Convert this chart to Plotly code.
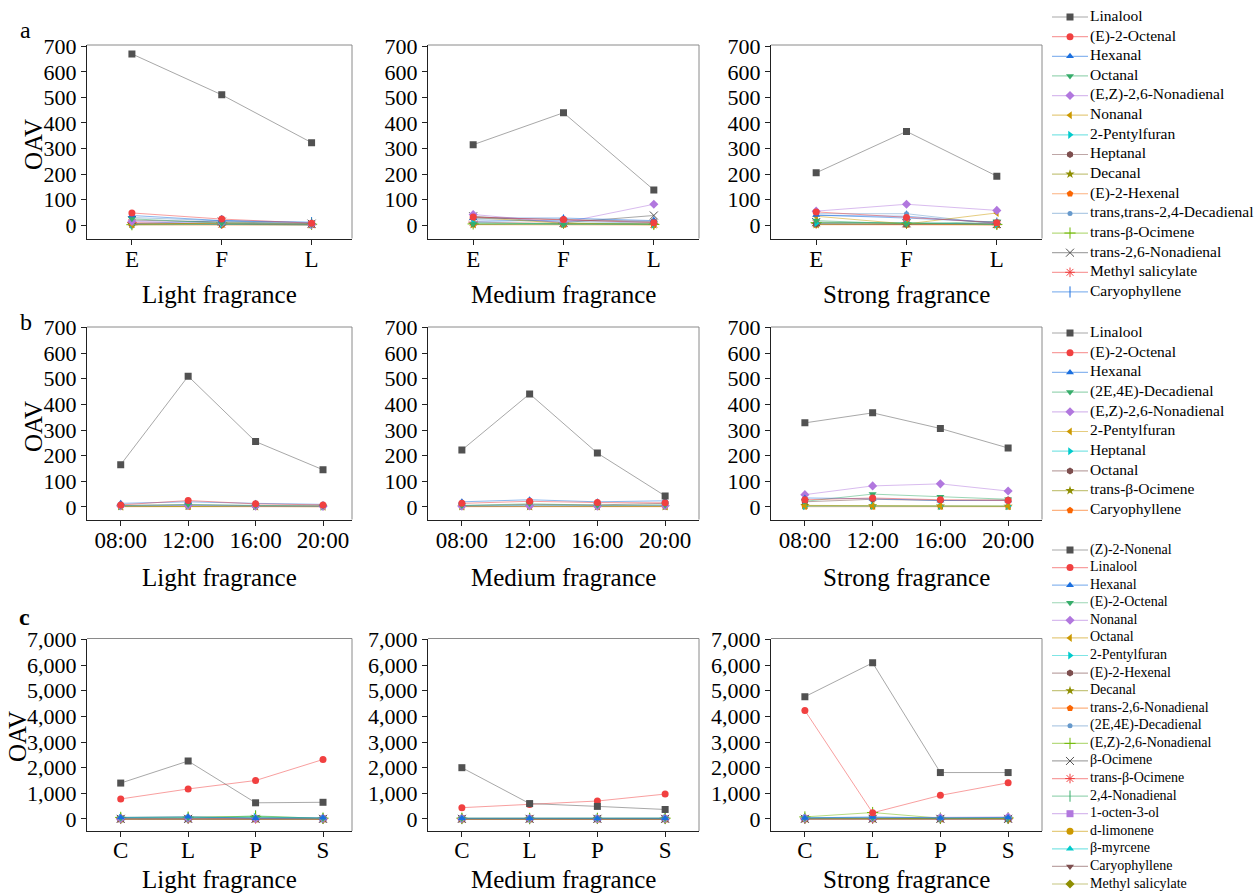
import plotly.graph_objects as go

W, H = 1257, 893
FONT = "Times New Roman, Liberation Serif, DejaVu Serif, serif"

# ---------------- data ----------------
STAGES = ["E", "F", "L"]
TIMES = ["08:00", "12:00", "16:00", "20:00"]
PARTS = ["C", "L", "P", "S"]
GROUPS = ["Light fragrance", "Medium fragrance", "Strong fragrance"]

NAMES_A = ["Linalool", "(E)-2-Octenal", "Hexanal", "Octanal", "(E,Z)-2,6-Nonadienal",
           "Nonanal", "2-Pentylfuran", "Heptanal", "Decanal", "(E)-2-Hexenal",
           "trans,trans-2,4-Decadienal", "trans-β-Ocimene", "trans-2,6-Nonadienal",
           "Methyl salicylate", "Caryophyllene"]
A_LIGHT = [[670, 510, 323], [48, 24, 8], [38, 18, 12], [25, 8, 3], [15, 10, 3],
           [3, 6, 4], [2, 3, 1], [5, 4, 2], [4, 6, 3], [1, 1, 0.5],
           [30, 18, 5], [2, 10, 4], [20, 14, 6], [10, 4, 2], [6, 18, 10]]
A_MEDIUM = [[315, 440, 138], [32, 22, 10], [28, 28, 18], [5, 3, 8], [42, 10, 82],
            [30, 8, 5], [10, 5, 3], [30, 22, 15], [3, 5, 2], [2, 1, 1],
            [22, 15, 8], [5, 8, 3], [35, 10, 38], [12, 6, 4], [15, 20, 12]]
A_STRONG = [[205, 367, 192], [52, 30, 10], [40, 28, 12], [18, 5, 15], [55, 82, 58],
            [35, 5, 48], [8, 10, 3], [5, 3, 8], [3, 5, 2], [2, 2, 1],
            [45, 45, 5], [10, 8, 3], [12, 8, 5], [6, 4, 2], [38, 35, 8]]

NAMES_B = ["Linalool", "(E)-2-Octenal", "Hexanal", "(2E,4E)-Decadienal",
           "(E,Z)-2,6-Nonadienal", "2-Pentylfuran", "Heptanal", "Octanal",
           "trans-β-Ocimene", "Caryophyllene"]
B_LIGHT = [[165, 510, 255, 145], [8, 25, 12, 8], [14, 20, 14, 10], [5, 10, 6, 4],
           [4, 6, 3, 2], [2, 3, 2, 2], [3, 5, 3, 2], [6, 8, 5, 4], [2, 3, 2, 1], [1, 1, 1, 1]]
B_MEDIUM = [[222, 441, 210, 43], [14, 22, 17, 16], [20, 28, 20, 24], [6, 12, 7, 8],
            [3, 4, 3, 5], [2, 3, 2, 3], [4, 6, 5, 6], [5, 10, 8, 14], [2, 2, 2, 2], [1, 1, 1, 1]]
B_STRONG = [[328, 367, 306, 230], [28, 35, 28, 25], [35, 32, 25, 25], [22, 50, 40, 30],
            [48, 82, 90, 62], [5, 4, 4, 3], [3, 4, 3, 3], [20, 30, 25, 28], [6, 5, 4, 3], [1, 1, 1, 1]]

NAMES_C = ["(Z)-2-Nonenal", "Linalool", "Hexanal", "(E)-2-Octenal", "Nonanal", "Octanal",
           "2-Pentylfuran", "(E)-2-Hexenal", "Decanal", "trans-2,6-Nonadienal",
           "(2E,4E)-Decadienal", "(E,Z)-2,6-Nonadienal", "β-Ocimene", "trans-β-Ocimene",
           "2,4-Nonadienal", "1-octen-3-ol", "d-limonene", "β-myrcene", "Caryophyllene",
           "Methyl salicylate"]
C_LIGHT = [[1400, 2260, 630, 650], [780, 1170, 1500, 2320], [60, 90, 30, 50], [40, 50, 60, 20],
           [20, 30, 20, 15], [10, 15, 10, 8], [50, 40, 80, 20], [5, 8, 5, 4], [10, 12, 10, 8],
           [8, 10, 6, 5], [30, 40, 25, 20], [60, 70, 100, 30], [5, 5, 5, 5], [5, 5, 5, 5],
           [20, 30, 120, 20], [5, 5, 5, 5], [10, 10, 10, 10], [15, 15, 10, 10], [5, 5, 5, 5],
           [5, 5, 5, 5]]
C_MEDIUM = [[2000, 600, 490, 370], [440, 560, 700, 970], [30, 25, 20, 30], [20, 20, 15, 20],
            [15, 15, 10, 15], [10, 10, 8, 10], [20, 15, 30, 25], [5, 5, 5, 5], [8, 8, 8, 8],
            [6, 6, 5, 5], [20, 15, 15, 20], [30, 25, 20, 30], [5, 5, 5, 5], [5, 5, 5, 5],
            [15, 10, 20, 15], [5, 5, 5, 5], [8, 8, 8, 8], [10, 10, 10, 10], [5, 5, 5, 5],
            [5, 5, 5, 5]]
C_STRONG = [[4770, 6090, 1810, 1810], [4230, 240, 920, 1410], [40, 80, 40, 60], [30, 40, 30, 40],
            [30, 40, 50, 80], [15, 20, 15, 15], [40, 50, 30, 30], [10, 10, 8, 8], [15, 20, 15, 15],
            [10, 10, 8, 8], [30, 40, 30, 30], [80, 250, 30, 40], [5, 5, 5, 5], [5, 5, 5, 5],
            [20, 30, 20, 20], [10, 10, 10, 10], [15, 15, 15, 15], [20, 20, 20, 20], [5, 5, 5, 5],
            [5, 5, 5, 5]]

# ---------------- styles ----------------
PAL = ["#515151", "#F14040", "#1A6FDF", "#37AD6B", "#B177DE", "#CC9900",
       "#00CBCC", "#7D4E4E", "#8E8E00", "#FB6501", "#6699CC", "#6FB802"]
SYMS = ["square", "circle", "triangle-up", "triangle-down", "diamond", "triangle-left",
        "triangle-right", "hexagon", "star", "pentagon", "circle", "cross-thin-open",
        "x-thin-open", "asterisk-open", "line-ns-open"]
COLOR_IDX_A = [i % 12 for i in range(15)]
COLOR_IDX_B = list(range(10))
COLOR_IDX_C = [0, 1, 2, 3, 4, 5, 6, 7, 8, 9, 10, 11, 0, 1, 3, 4, 5, 6, 7, 8]


def rgba(hexc, a):
    h = hexc.lstrip("#")
    return "rgba(%d,%d,%d,%.2f)" % (int(h[0:2], 16), int(h[2:4], 16), int(h[4:6], 16), a)


def style(i, cidx):
    c = PAL[cidx[i]]
    sym = SYMS[i % 15]
    open_sym = sym.endswith("-open")
    size = 5 if i % 15 == 10 else (8 if open_sym else 7)
    marker = dict(color=c, symbol=sym, size=size,
                  line=dict(color=c, width=1 if open_sym else 0))
    return c, marker


COL_X = [(87, 352), (428, 699), (771, 1042)]
ROW_Y = [(45, 238.5), (327, 519.5), (638.5, 831)]
Y_RANGES = [[-52, 705], [-49, 702], [-470, 7040]]
Y_DTICK = [100, 100, 1000]
X_STANDOFF = [-5, -5, -7]

ROWS = [
    (STAGES, NAMES_A, [A_LIGHT, A_MEDIUM, A_STRONG], COLOR_IDX_A),
    (TIMES, NAMES_B, [B_LIGHT, B_MEDIUM, B_STRONG], COLOR_IDX_B),
    (PARTS, NAMES_C, [C_LIGHT, C_MEDIUM, C_STRONG], COLOR_IDX_C),
]

fig = go.Figure()
layout = dict(
    width=W, height=H, autosize=False,
    margin=dict(l=0, r=0, t=0, b=0, pad=0, autoexpand=False),
    paper_bgcolor="white", plot_bgcolor="rgba(0,0,0,0)",
    showlegend=False, font=dict(family=FONT, color="black"),
)
shapes = []
annotations = []

k = 0
for r, (cats, names, panels, cidx) in enumerate(ROWS):
    y0, y1 = ROW_Y[r]
    for c in range(3):
        k += 1
        x0, x1 = COL_X[c]
        suf = "" if k == 1 else str(k)
        xa, ya = "x" + suf, "y" + suf
        n = len(cats)
        xr = [-0.5, n - 0.5] if c > 0 else ([-0.5, 2.45] if r == 0 else [-0.5, 3.43])
        layout["xaxis" + suf] = dict(
            domain=[x0 / W, x1 / W], anchor=ya, type="category", range=xr,
            showline=True, linecolor="#222", linewidth=1, mirror=False,
            ticks="outside", ticklen=5, tickcolor="#222", ticklabelstandoff=X_STANDOFF[r],
            tickfont=dict(family=FONT, size=23, color="black"), automargin=False,
            showgrid=False, zeroline=False, fixedrange=True,
        )
        layout["yaxis" + suf] = dict(
            domain=[1 - y1 / H, 1 - y0 / H], anchor=xa, range=Y_RANGES[r],
            tick0=0, dtick=Y_DTICK[r], tickformat=",d", automargin=False,
            showline=True, linecolor="#222", linewidth=1, mirror=False,
            ticks="outside", ticklen=5, tickcolor="#222",
            tickfont=dict(family=FONT, size=22, color="black"),
            showgrid=False, zeroline=False, fixedrange=True,
        )
        # grey top / right frame lines
        shapes.append(dict(type="line", xref="%s domain" % xa, yref="%s domain" % ya,
                           x0=0, x1=1, y0=1, y1=1, line=dict(color="#8a8a8a", width=1)))
        shapes.append(dict(type="line", xref="%s domain" % xa, yref="%s domain" % ya,
                           x0=1, x1=1, y0=0, y1=1, line=dict(color="#8a8a8a", width=1)))
        data = panels[c]
        for i in range(len(names) - 1, -1, -1):
            col, marker = style(i, cidx)
            fig.add_trace(go.Scatter(
                x=cats, y=data[i], mode="lines+markers", name=names[i],
                xaxis=xa, yaxis=ya, line=dict(color=rgba(col, 0.5), width=1),
                marker=marker, showlegend=False, hoverinfo="name+y"))
        # x axis title
        title_y = [295, 577, 879][r]
        annotations.append(dict(text=GROUPS[c], xref="%s domain" % xa, x=0.5,
                                yref="paper", y=1 - title_y / H, showarrow=False,
                                xanchor="center", yanchor="middle",
                                font=dict(family=FONT, size=25, color="black")))

# y titles and panel letters
for r, (ty, tx) in enumerate([(145, 33), (427, 33), (737, 17)]):
    annotations.append(dict(text="OAV", xref="paper", yref="paper", x=tx / W, y=1 - ty / H,
                            textangle=-90, showarrow=False, xanchor="center", yanchor="middle",
                            font=dict(family=FONT, size=25, color="black")))
for letter, (lx, ly), bold in [("a", (25, 30), False), ("b", (26, 322), False), ("c", (24, 617), True)]:
    annotations.append(dict(text="<b>%s</b>" % letter if bold else letter, xref="paper", yref="paper",
                            x=lx / W, y=1 - ly / H, showarrow=False,
                            xanchor="center", yanchor="middle",
                            font=dict(family=FONT, size=24, color="black")))

# ---------------- legends (drawn on an overlay pixel axis) ----------------
LX0, LX1 = 1045, 1257
layout["xaxis10"] = dict(domain=[LX0 / W, 1], range=[LX0, LX1], visible=False,
                         anchor="y10", fixedrange=True)
layout["yaxis10"] = dict(domain=[0, 1], range=[H, 0], visible=False,
                         anchor="x10", fixedrange=True)
LEG_BLOCKS = [(NAMES_A, COLOR_IDX_A, 17, 19.64, 15.5),
              (NAMES_B, COLOR_IDX_B, 333, 19.7, 15.5),
              (NAMES_C, COLOR_IDX_C, 550, 17.58, 14)]
for names, cidx, ystart, dy, fsz in LEG_BLOCKS:
    ys = [ystart + i * dy for i in range(len(names))]
    for i, nm in enumerate(names):
        col, marker = style(i, cidx)
        fig.add_trace(go.Scatter(x=[1052, 1088], y=[ys[i], ys[i]], mode="lines",
                                 line=dict(color=rgba(col, 0.5), width=1.2),
                                 xaxis="x10", yaxis="y10", hoverinfo="skip", showlegend=False))
        fig.add_trace(go.Scatter(x=[1070], y=[ys[i]], mode="markers", marker=marker,
                                 xaxis="x10", yaxis="y10", hoverinfo="skip", showlegend=False))
    fig.add_trace(go.Scatter(x=[1090] * len(names), y=ys, mode="text", text=names,
                             textposition="middle right", cliponaxis=False,
                             textfont=dict(family=FONT, size=fsz, color="black"),
                             xaxis="x10", yaxis="y10", hoverinfo="skip", showlegend=False))

layout["shapes"] = shapes
layout["annotations"] = annotations
fig.update_layout(**layout)
fig.write_html("out.html", config={"displayModeBar": False})
